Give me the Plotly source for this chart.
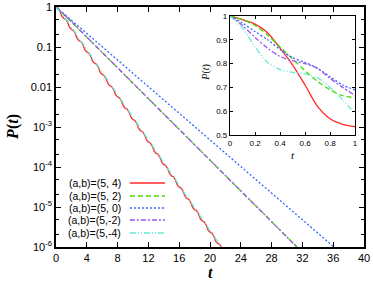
import plotly.graph_objects as go

# ---------------- data ----------------
labels = ["(a,b)=(5, 4)", "(a,b)=(5, 2)", "(a,b)=(5, 0)", "(a,b)=(5,-2)", "(a,b)=(5,-4)"]
colors = ["#ff2a2a", "#44dd00", "#3366ff", "#9955ee", "#66e8d4"]
dashes = ["solid", "5px,3px", "2px,2px", "5px,2px,2px,2px", "6px,2px,1px,2px,1px,2px"]

# main panel: log10 P(t)
t_quarter = [i * 0.25 for i in range(89)]  # 0 .. 22
red_log10 = [0, -0.022, -0.100, -0.228,
             -0.2815, -0.3035, -0.3815, -0.5095,
             -0.563, -0.585, -0.663, -0.791,
             -0.8445, -0.8665, -0.9445, -1.0725,
             -1.126, -1.148, -1.226, -1.354,
             -1.4075, -1.4295, -1.5075, -1.6355,
             -1.689, -1.711, -1.789, -1.917,
             -1.9705, -1.9925, -2.0705, -2.1985,
             -2.252, -2.274, -2.352, -2.480,
             -2.5335, -2.5555, -2.6335, -2.7615,
             -2.815, -2.837, -2.915, -3.043,
             -3.0965, -3.1185, -3.1965, -3.3245,
             -3.378, -3.400, -3.478, -3.606,
             -3.6595, -3.6815, -3.7595, -3.8875,
             -3.941, -3.963, -4.041, -4.169,
             -4.2225, -4.2445, -4.3225, -4.4505,
             -4.504, -4.526, -4.604, -4.732,
             -4.7855, -4.8075, -4.8855, -5.0135,
             -5.067, -5.089, -5.167, -5.295,
             -5.3485, -5.3705, -5.4485, -5.5765,
             -5.63, -5.652, -5.730, -5.858,
             -5.9115, -5.9335, -6.0115, -6.1395,
             -6.193]
t_half = [i * 0.5 for i in range(45)]  # 0 .. 22
cyan_log10 = [0, -0.119, -0.229, -0.354, -0.5115, -0.6365, -0.794, -0.919, -1.0765, -1.2015,
              -1.359, -1.484, -1.6415, -1.7665, -1.924, -2.049, -2.2065, -2.3315, -2.489, -2.614,
              -2.7715, -2.8965, -3.054, -3.179, -3.3365, -3.4615, -3.619, -3.744, -3.9015, -4.0265,
              -4.184, -4.309, -4.4665, -4.5915, -4.749, -4.874, -5.0315, -5.1565, -5.314, -5.439,
              -5.5965, -5.7215, -5.879, -6.004, -6.1615]
t_int = list(range(38))  # 0 .. 37
green_log10 = [0, -0.18, -0.372, -0.564, -0.756, -0.948, -1.14, -1.332, -1.524, -1.716, -1.908,
               -2.10, -2.292, -2.484, -2.676, -2.868, -3.06, -3.252, -3.444, -3.636, -3.828,
               -4.02, -4.212, -4.404, -4.596, -4.788, -4.98, -5.172, -5.364, -5.556, -5.748,
               -5.94, -6.132]
purple_log10 = [0, -0.171, -0.3635, -0.556, -0.7485, -0.941, -1.1335, -1.326, -1.5185, -1.711,
                -1.9035, -2.096, -2.2885, -2.481, -2.6735, -2.866, -3.0585, -3.251, -3.4435, -3.636,
                -3.8285, -4.021, -4.2135, -4.406, -4.5985, -4.791, -4.9835, -5.176, -5.3685, -5.561,
                -5.7535, -5.946, -6.1385]
blue_log10 = [0, -0.161, -0.3274, -0.4938, -0.6602, -0.8266, -0.993, -1.1594, -1.3258, -1.4922,
              -1.6586, -1.825, -1.9914, -2.1578, -2.3242, -2.4906, -2.657, -2.8234, -2.9898, -3.1562,
              -3.3226, -3.489, -3.6554, -3.8218, -3.9882, -4.1546, -4.321, -4.4874, -4.6538, -4.8202,
              -4.9866, -5.153, -5.3194, -5.4858, -5.6522, -5.8186, -5.985, -6.1514]

# inset panel: P(t) for 0 <= t <= 1
t_inset = [0, 0.1, 0.2, 0.3, 0.4, 0.5, 0.6, 0.7, 0.8, 0.9, 1.0]
red_inset = [1, 0.985, 0.966, 0.93, 0.865, 0.795, 0.71, 0.62, 0.568, 0.545, 0.535]
green_inset = [1, 0.985, 0.96, 0.92, 0.87, 0.82, 0.77, 0.725, 0.69, 0.665, 0.657]
blue_inset = [1, 0.97, 0.935, 0.9, 0.86, 0.825, 0.805, 0.78, 0.745, 0.71, 0.69]
purple_inset = [1, 0.96, 0.91, 0.865, 0.83, 0.812, 0.8, 0.78, 0.738, 0.70, 0.667]
cyan_inset = [1, 0.95, 0.87, 0.805, 0.775, 0.763, 0.757, 0.74, 0.70, 0.648, 0.59]

x_ticks = [0, 4, 8, 12, 16, 20, 24, 28, 32, 36, 40]
y_ticks = [1, 0.1, 0.01, 1e-3, 1e-4, 1e-5, 1e-6]
y_tick_text = ["1", "0.1", "0.01", "10<sup>-3</sup>", "10<sup>-4</sup>", "10<sup>-5</sup>", "10<sup>-6</sup>"]
inset_x_ticks = [0, 0.2, 0.4, 0.6, 0.8, 1]
inset_x_text = ["0", "0.2", "0.4", "0.6", "0.8", "1"]
inset_y_ticks = [0.5, 0.6, 0.7, 0.8, 0.9, 1]
inset_y_text = ["0.5", "0.6", "0.7", "0.8", "0.9", "1"]

# ---------------- figure ----------------
fig = go.Figure()
main_series = [
    (t_quarter, red_log10), (t_int, green_log10), (t_int, blue_log10),
    (t_int, purple_log10), (t_half, cyan_log10),
]
for (tx, ly), name, c, d in zip(main_series, labels, colors, dashes):
    fig.add_trace(go.Scatter(x=tx[:len(ly)], y=[10 ** v for v in ly], mode="lines", name=name,
                             line=dict(color=c, width=1.3, dash=d), showlegend=False,
                             xaxis="x", yaxis="y"))

inset_series = [red_inset, green_inset, blue_inset, purple_inset, cyan_inset]
for ys, name, c, d in zip(inset_series, labels, colors, dashes):
    fig.add_trace(go.Scatter(x=t_inset, y=ys, mode="lines", name=name,
                             line=dict(color=c, width=1.3, dash=d, shape="spline", smoothing=0.8),
                             showlegend=False, xaxis="x2", yaxis="y2"))

tick_font = dict(family="Liberation Sans, Arial, sans-serif", size=11, color="black")
inset_font = dict(family="Liberation Sans, Arial, sans-serif", size=8, color="black")

# legend drawn inside plot area (text then line sample)
leg_rows = [0.2667, 0.2125, 0.1625, 0.1125, 0.0583]
shapes = []
annotations = []
for name, c, d, yy in zip(labels, colors, dashes, leg_rows):
    annotations.append(dict(xref="paper", yref="paper", x=0.216, y=yy, text=name,
                            showarrow=False, xanchor="right", yanchor="middle",
                            font=dict(family="Liberation Sans, Arial, sans-serif", size=10.5, color="black")))
    shapes.append(dict(type="line", xref="paper", yref="paper", x0=0.240, x1=0.354, y0=yy, y1=yy,
                       line=dict(color=c, width=1.3, dash=d)))

annotations.append(dict(xref="paper", yref="paper", x=-0.14, y=0.5, text="<b><i>P</i>(<i>t</i>)</b>",
                        showarrow=False, textangle=-90, xanchor="center", yanchor="middle",
                        font=dict(family="Liberation Serif, Times New Roman, serif", size=16, color="black")))
annotations.append(dict(xref="paper", yref="paper", x=0.5, y=-0.105, text="<b><i>t</i></b>",
                        showarrow=False, xanchor="center", yanchor="middle",
                        font=dict(family="Liberation Serif, Times New Roman, serif", size=16, color="black")))
annotations.append(dict(xref="paper", yref="paper", x=0.486, y=0.729, text="<i>P</i>(<i>t</i>)",
                        showarrow=False, textangle=-90, xanchor="center", yanchor="middle",
                        font=dict(family="Liberation Serif, Times New Roman, serif", size=10, color="black")))
annotations.append(dict(xref="paper", yref="paper", x=0.769, y=0.383, text="<i>t</i>",
                        showarrow=False, xanchor="center", yanchor="middle",
                        font=dict(family="Liberation Serif, Times New Roman, serif", size=11, color="black")))

fig.update_layout(
    width=373, height=286,
    margin=dict(l=56, r=9, t=7, b=39, autoexpand=False),
    paper_bgcolor="white", plot_bgcolor="white",
    showlegend=False,
    shapes=shapes, annotations=annotations,
    xaxis=dict(range=[0, 40], tickvals=x_ticks, ticktext=[str(v) for v in x_ticks],
               ticks="inside", ticklen=5, tickcolor="black", mirror="allticks", automargin=False,
               showline=True, linecolor="black", linewidth=1.5, showgrid=False, zeroline=False,
               tickfont=tick_font),
    yaxis=dict(type="log", range=[-6, 0], tickvals=y_ticks, ticktext=y_tick_text,
               ticks="inside", ticklen=5, tickcolor="black", mirror="allticks", automargin=False,
               showline=True, linecolor="black", linewidth=1.5, showgrid=False, zeroline=False,
               tickfont=tick_font,
               minor=dict(ticks="inside", ticklen=3, tickcolor="black", dtick="D2", showgrid=False)),
    xaxis2=dict(domain=[0.565, 0.971], anchor="y2", range=[0, 1], tickvals=inset_x_ticks,
                ticktext=inset_x_text, ticks="inside", ticklen=3, tickcolor="black", mirror="allticks",
                automargin=False,
                showline=True, linecolor="black", linewidth=1.3, showgrid=False, zeroline=False,
                tickfont=inset_font),
    yaxis2=dict(domain=[0.4667, 0.9625], anchor="x2", range=[0.5, 1], tickvals=inset_y_ticks,
                ticktext=inset_y_text, ticks="inside", ticklen=3, tickcolor="black", mirror="allticks",
                automargin=False,
                showline=True, linecolor="black", linewidth=1.3, showgrid=False, zeroline=False,
                tickfont=inset_font),
)

fig.write_html("out.html", config={"displayModeBar": False},
               post_script="document.body.style.margin='0';")
